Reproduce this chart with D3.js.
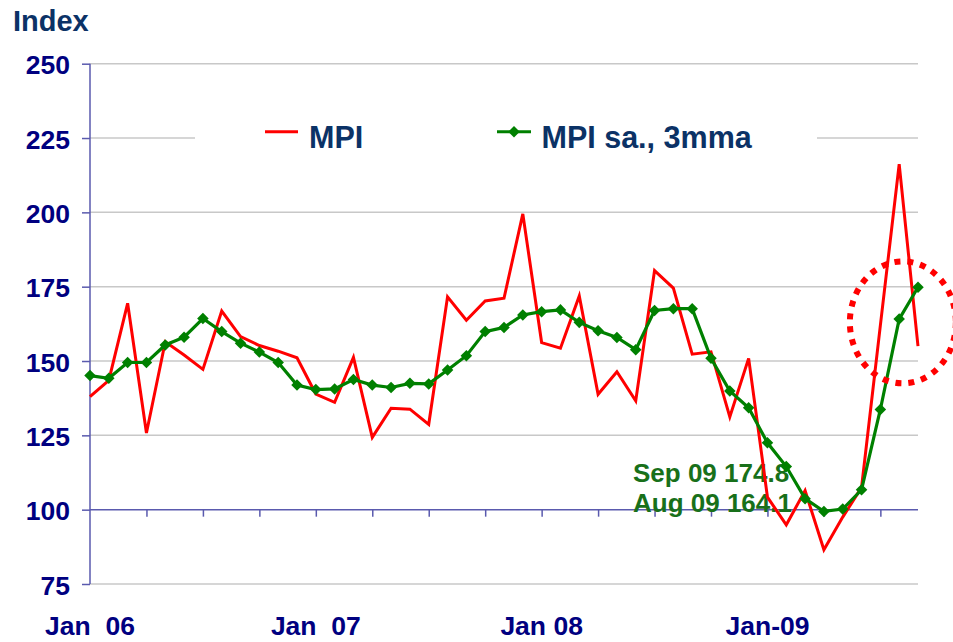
<!DOCTYPE html>
<html>
<head>
<meta charset="utf-8">
<script src="https://cdn.jsdelivr.net/npm/d3@7"></script>
<style>
  html, body { margin: 0; padding: 0; background: #ffffff; }
  svg { display: block; font-family: "Liberation Sans", Arial, sans-serif; }
</style>
</head>
<body>
<svg id="chart" width="953" height="642"></svg>
<script>
// ---- data ----
const months = [
  "Jan 06","Feb 06","Mar 06","Apr 06","May 06","Jun 06","Jul 06","Aug 06","Sep 06","Oct 06","Nov 06","Dec 06",
  "Jan 07","Feb 07","Mar 07","Apr 07","May 07","Jun 07","Jul 07","Aug 07","Sep 07","Oct 07","Nov 07","Dec 07",
  "Jan 08","Feb 08","Mar 08","Apr 08","May 08","Jun 08","Jul 08","Aug 08","Sep 08","Oct 08","Nov 08","Dec 08",
  "Jan 09","Feb 09","Mar 09","Apr 09","May 09","Jun 09","Jul 09","Aug 09","Sep 09"
];
const mpi = [
  138.0, 143.5, 169.4, 125.8, 156.5, 152.0, 147.2, 166.8, 158.2, 155.2, 153.3, 151.1,
  138.9, 136.1, 151.2, 124.3, 134.1, 133.8, 128.7, 171.6, 163.7, 170.2, 171.1, 199.5,
  156.2, 154.3, 171.9, 138.8, 146.4, 136.6, 180.4, 174.5, 152.3, 153.1, 131.2, 150.9,
  104.2, 94.9, 106.4, 86.5, 97.5, 107.5, 162.0, 216.2, 155.0
];
const mpiSa3mma = [
  145.1, 144.2, 149.5, 149.5, 155.4, 158.0, 164.3, 159.9, 156.0, 153.0, 149.5, 141.9,
  140.4, 140.6, 143.8, 141.9, 141.1, 142.5, 142.3, 147.0, 151.8, 159.9, 161.3, 165.5,
  166.6, 167.2, 163.0, 160.2, 157.9, 153.8, 167.0, 167.6, 167.6, 150.9, 139.9, 134.3,
  122.5, 114.5, 103.7, 99.4, 100.2, 106.7, 133.7, 164.1, 174.8
];
const yTicks = [75, 100, 125, 150, 175, 200, 225, 250];
const xLabels = [
  { month: "Jan 06", text: "Jan  06" },
  { month: "Jan 07", text: "Jan  07" },
  { month: "Jan 08", text: "Jan 08" },
  { month: "Jan 09", text: "Jan-09" }
];
const quarterTicks = ["Apr 06","Jul 06","Oct 06","Jan 07","Apr 07","Jul 07","Oct 07","Jan 08","Apr 08","Jul 08","Oct 08","Jan 09","Apr 09","Jul 09"];
const seriesNames = ["MPI", "MPI sa., 3mma"];
const annotations = ["Sep 09 174.8", "Aug 09 164.1"];

// ---- layout ----
const svg = d3.select("#chart");
const navy = "#000080";
const titleBlue = "#0b3266";
const axisCol = "#5a5aae";
const gridCol = "#c8c8c8";
const red = "#ff0000";
const green = "#008000";

const x = d3.scalePoint().domain(months).range([90, 918]);
const y = d3.scaleLinear().domain([75, 250]).range([584, 63.7]);

// gridlines
svg.append("g").selectAll("line")
  .data(yTicks.filter(d => d !== 100))
  .join("line")
  .attr("x1", 90).attr("x2", 918)
  .attr("y1", d => y(d)).attr("y2", d => y(d))
  .attr("stroke", gridCol).attr("stroke-width", 1.5);

// left axis
const yAxis = d3.axisLeft(y).tickValues(yTicks).tickSize(8).tickPadding(12).tickFormat(d3.format("d"));
const gy = svg.append("g").attr("transform", "translate(90,0)").call(yAxis);
gy.select(".domain").attr("stroke", axisCol).attr("stroke-width", 1.5).attr("d", `M0,${y(75)}V${y(250)}`);
gy.selectAll(".tick line").attr("stroke", axisCol).attr("stroke-width", 1.5);
gy.selectAll(".tick text")
  .attr("fill", navy).attr("font-size", "26.5px").attr("font-weight", "bold")
  .attr("font-family", "'Liberation Sans', Arial, sans-serif")
  .attr("dy", null).attr("y", 10);

// horizontal axis line at 100 with quarterly ticks
const xAxis = d3.axisBottom(x).tickValues(quarterTicks).tickSize(7).tickFormat("");
const gx = svg.append("g").attr("transform", `translate(0,${y(100)})`).call(xAxis);
gx.select(".domain").attr("stroke", axisCol).attr("stroke-width", 1.5).attr("d", "M90,0H918");
gx.selectAll(".tick line").attr("stroke", axisCol).attr("stroke-width", 1.5);

// x labels at bottom
svg.append("g").selectAll("text")
  .data(xLabels)
  .join("text")
  .attr("x", d => x(d.month))
  .attr("y", 635)
  .attr("text-anchor", "middle")
  .style("white-space", "pre")
  .attr("fill", navy).attr("font-size", "26.5px").attr("font-weight", "bold")
  .text(d => d.text);

// y title
svg.append("text")
  .attr("x", 13).attr("y", 30.5)
  .attr("fill", titleBlue).attr("font-size", "29px").attr("font-weight", "bold")
  .text("Index");

// annotation
svg.append("g").selectAll("text")
  .data(annotations)
  .join("text")
  .attr("x", 633).attr("y", (d, i) => 481.5 + i * 30.5)
  .attr("fill", "#18701a").attr("font-size", "26px").attr("font-weight", "bold")
  .text(d => d);

// lines
const line = d3.line().x((d, i) => x(months[i])).y(d => y(d));
svg.append("path").datum(mpi)
  .attr("d", line).attr("fill", "none")
  .attr("stroke", red).attr("stroke-width", 3).attr("stroke-linejoin", "miter");

svg.append("path").datum(mpiSa3mma)
  .attr("d", line).attr("fill", "none")
  .attr("stroke", green).attr("stroke-width", 3.2);

const diamond = d3.symbol().type(d3.symbolDiamond2).size(85);
svg.append("g").selectAll("path")
  .data(mpiSa3mma)
  .join("path")
  .attr("transform", (d, i) => `translate(${x(months[i])},${y(d)})`)
  .attr("d", diamond)
  .attr("fill", green);

// dotted ellipse highlight
svg.append("ellipse")
  .attr("cx", x("Jul 09") + 22.5).attr("cy", y(163))
  .attr("rx", 53).attr("ry", 61)
  .attr("fill", "none").attr("stroke", red)
  .attr("stroke-width", 6).attr("stroke-dasharray", "6,7");

// legend
const lg = svg.append("g");
lg.append("rect").attr("x", 195).attr("y", 108).attr("width", 622).attr("height", 58).attr("fill", "#ffffff");
lg.append("line").attr("x1", 265).attr("x2", 298).attr("y1", 131.7).attr("y2", 131.7)
  .attr("stroke", red).attr("stroke-width", 3);
lg.append("text").attr("x", 309).attr("y", 147.5)
  .attr("fill", titleBlue).attr("font-size", "30.5px").attr("font-weight", "bold")
  .text(seriesNames[0]);
lg.append("line").attr("x1", 497).attr("x2", 531).attr("y1", 131.7).attr("y2", 131.7)
  .attr("stroke", green).attr("stroke-width", 3);
lg.append("path").attr("transform", "translate(514,131.7)").attr("d", diamond).attr("fill", green);
lg.append("text").attr("x", 541.5).attr("y", 147.5)
  .attr("fill", titleBlue).attr("font-size", "30.5px").attr("font-weight", "bold")
  .text(seriesNames[1]);
</script>
</body>
</html>
